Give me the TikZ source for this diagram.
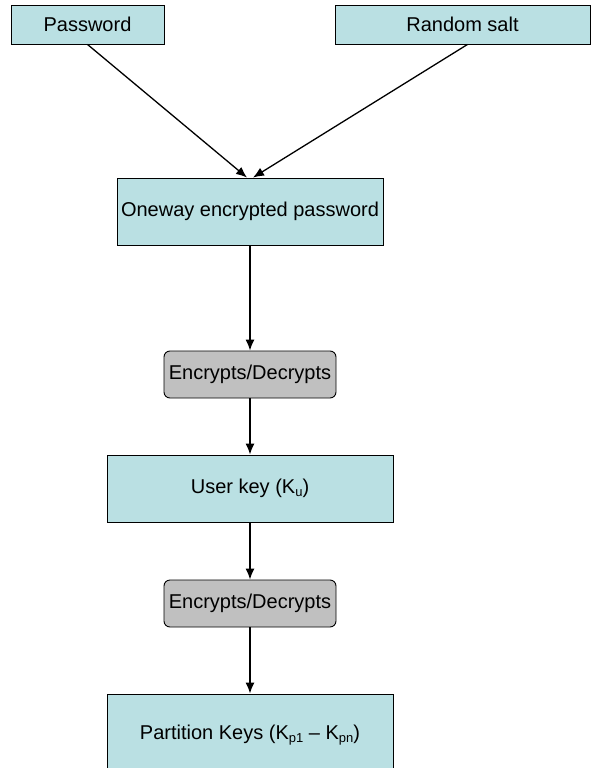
\documentclass[tikz,border=0pt]{standalone}
\usepackage{fontspec}
\setmainfont{Liberation Sans}
\usetikzlibrary{arrows.meta,calc}
\definecolor{keyblue}{RGB}{186,224,227}
\definecolor{opgray}{RGB}{192,192,192}
\newcommand{\lowsub}[1]{\raisebox{-0.3ex}{\fontsize{13}{14}\selectfont #1}}
\begin{document}
\begin{tikzpicture}[x=1pt,y=-1pt,
  every node/.style={font=\fontsize{20}{22}\selectfont, inner sep=0pt},
  keybox/.style={draw=black, line width=0.9pt, fill=keyblue},
  opbox/.style={draw=black, line width=0.9pt, fill=opgray, rounded corners=6pt,
    minimum width=172pt, minimum height=47pt},
  flow/.style={line width=1.3pt, -{Latex[length=11pt,width=9pt]}}]
  \useasboundingbox (0,0) rectangle (591,768);
  % inputs
  \node[keybox, minimum width=153pt, minimum height=39pt] (pwd) at (87.5,24.5) {Password};
  \node[keybox, minimum width=255pt, minimum height=39pt] (salt) at (462.5,24.5) {Random salt};
  % derived values
  \node[keybox, minimum width=266pt, minimum height=67pt] (oneway) at (250,211.5) {Oneway encrypted password};
  \node[opbox] (enc1) at (250,374.5) {Encrypts/Decrypts};
  \node[keybox, minimum width=286pt, minimum height=67pt] (ukey) at (250,488.5) {User key (K\lowsub{u})};
  \node[opbox] (enc2) at (250,603.5) {Encrypts/Decrypts};
  \node[keybox, minimum width=286pt, minimum height=82pt] (pkeys) at (250,735) {Partition Keys (K\lowsub{p1} – K\lowsub{pn})};
  % connectors
  \draw[flow] (pwd.south) -- ($(oneway.north)+(-3,0)$);
  \draw[flow] ($(salt.south)+(5,0)$) -- ($(oneway.north)+(3,0)$);
  \draw[flow] (oneway.south) -- (enc1.north);
  \draw[flow] (enc1.south) -- (ukey.north);
  \draw[flow] (ukey.south) -- (enc2.north);
  \draw[flow] (enc2.south) -- (pkeys.north);
\end{tikzpicture}
\end{document}
